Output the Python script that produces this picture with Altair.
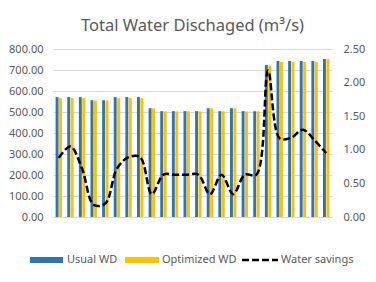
import altair as alt
import pandas as pd

hours = list(range(1, 25))
usual = [571, 571, 571, 556, 556, 571, 571, 571, 518, 504, 504, 504, 504, 518, 504, 518, 504, 504, 724, 743, 743, 743, 743, 752]
optimized = [566, 566, 566, 554, 555, 566, 566, 566, 517, 503, 503, 503, 503, 517, 503, 517, 503, 503, 722, 738, 738, 738, 738, 752]
savings = [0.88, 1.05, 0.72, 0.18, 0.20, 0.72, 0.89, 0.89, 0.34, 0.63, 0.63, 0.63, 0.63, 0.34, 0.63, 0.34, 0.63, 0.63, 2.18, 1.17, 1.18, 1.30, 1.14, 0.95]
series_names = ["Usual WD", "Optimized WD"]
line_name = "Water savings"
left_ticks = [0, 100, 200, 300, 400, 500, 600, 700, 800]
right_ticks = [0, 0.5, 1.0, 1.5, 2.0, 2.5]
x_ticks = list(range(1, 25, 2))
title_text = "Total Water Dischaged (m³/s)"

BLUE = "#2E75B6"
GOLD = "#FFC000"
GRAY = "#595959"
FONT = "Noto Sans"

bars_df = pd.DataFrame({
    "Hour": hours * 2,
    "Series": [series_names[0]] * 24 + [series_names[1]] * 24,
    "Value": usual + optimized,
})
line_df = pd.DataFrame({"Hour": hours, "Savings": savings})

x_enc = alt.X(
    "Hour:O",
    scale=alt.Scale(paddingInner=0.45, paddingOuter=0.225),
    axis=alt.Axis(values=x_ticks, labelAngle=0, title=None, ticks=False, domain=False,
                  labelPadding=8, labelFontSize=11, labelColor=GRAY, labelFont=FONT),
)

bars = alt.Chart(bars_df).mark_bar().encode(
    x=x_enc,
    xOffset=alt.XOffset("Series:N", sort=series_names, scale=alt.Scale(paddingInner=0.15)),
    y=alt.Y("Value:Q", scale=alt.Scale(domain=[0, 800], nice=False),
            axis=alt.Axis(values=left_ticks, format=".2f", title=None, ticks=False, domain=False,
                          labelPadding=10, labelFontSize=11, labelColor=GRAY, labelFont=FONT,
                          gridColor="#D9D9D9", gridWidth=1)),
    color=alt.Color("Series:N", scale=alt.Scale(domain=series_names, range=[BLUE, GOLD]), legend=None),
)

line = alt.Chart(line_df).mark_line(color="black", strokeWidth=2.5, strokeDash=[7, 3],
                                     interpolate="catmull-rom").encode(
    x=alt.X("Hour:O", axis=None),
    y=alt.Y("Savings:Q", scale=alt.Scale(domain=[0, 2.5], nice=False),
            axis=alt.Axis(orient="right", values=right_ticks, format=".2f", title=None, ticks=False,
                          domain=False, grid=False, labelPadding=11, labelFontSize=11,
                          labelColor=GRAY, labelFont=FONT)),
)

def one(name):
    return alt.Chart(pd.DataFrame({"label": [name]}))

leg_y = 211
leg1 = one(series_names[0]).mark_rect(color=BLUE).encode(
    x=alt.value(-23), x2=alt.value(10), y=alt.value(leg_y - 3), y2=alt.value(leg_y + 3))
leg1t = one(series_names[0]).mark_text(align="left", baseline="middle", fontSize=11, font=FONT, color=GRAY).encode(
    x=alt.value(14), y=alt.value(leg_y), text="label:N")
leg2 = one(series_names[1]).mark_rect(color=GOLD).encode(
    x=alt.value(72), x2=alt.value(106), y=alt.value(leg_y - 3), y2=alt.value(leg_y + 3))
leg2t = one(series_names[1]).mark_text(align="left", baseline="middle", fontSize=11, font=FONT, color=GRAY).encode(
    x=alt.value(109), y=alt.value(leg_y), text="label:N")
leg3 = one(line_name).mark_rule(color="black", strokeWidth=2.5, strokeDash=[7, 3]).encode(
    x=alt.value(189), x2=alt.value(225), y=alt.value(leg_y))
leg3t = one(line_name).mark_text(align="left", baseline="middle", fontSize=11, font=FONT, color=GRAY).encode(
    x=alt.value(228), y=alt.value(leg_y), text="label:N")

chart = alt.layer(bars, line, leg1, leg1t, leg2, leg2t, leg3, leg3t).resolve_scale(
    y="independent"
).properties(
    width=279, height=168,
    autosize=alt.AutoSizeParams(type="none"),
    padding={"left": 45, "top": 41, "right": 36, "bottom": 65},
    title=alt.Title(title_text, fontSize=16.5, font=FONT, color=GRAY, fontWeight="normal", offset=9),
).configure_view(stroke=None)

chart.save("out.html", embed_options={"renderer": "svg", "actions": False})
